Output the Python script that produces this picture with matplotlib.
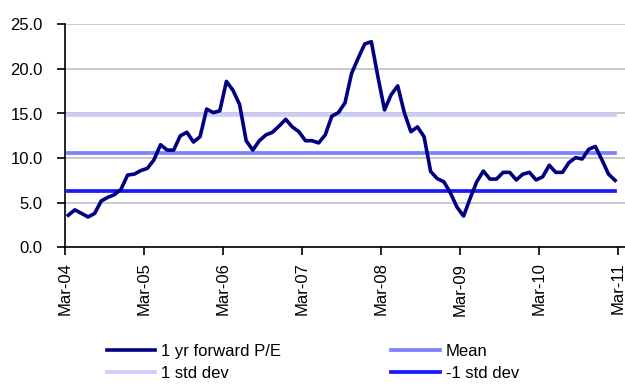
import matplotlib
matplotlib.use("Agg")
import matplotlib.pyplot as plt
import numpy as np

plt.rcParams['font.family'] = ['Liberation Sans Narrow', 'Liberation Sans', 'DejaVu Sans']

tick_labels = ["Mar-04", "Mar-05", "Mar-06", "Mar-07", "Mar-08", "Mar-09", "Mar-10", "Mar-11"]

pe = [3.6, 4.2, 3.8, 3.4, 3.8, 5.2, 5.6, 5.9, 6.5, 8.1,
      8.2, 8.6, 8.85, 9.8, 11.5, 10.9, 10.9, 12.5, 12.9, 11.8,
      12.4, 15.5, 15.1, 15.3, 18.6, 17.6, 16.0, 11.95, 10.9, 11.95,
      12.6, 12.9, 13.6, 14.35, 13.5, 12.96, 11.95, 11.95, 11.7, 12.6,
      14.7, 15.1, 16.2, 19.5, 21.2, 22.8, 23.05, 19.1, 15.4, 17.1,
      18.1, 15.1, 12.96, 13.5, 12.4, 8.5, 7.7, 7.35, 6.1, 4.5,
      3.5, 5.5, 7.35, 8.55, 7.65, 7.65, 8.4, 8.4, 7.55, 8.2,
      8.4, 7.55, 7.9, 9.2, 8.4, 8.4, 9.5, 10.05, 9.9, 11.0,
      11.3, 9.8, 8.2, 7.5]
mean_val = 10.6
plus_sd = 14.8
minus_sd = 6.3

n = len(pe)
x = np.arange(n) + 0.5

fig = plt.figure(figsize=(6.25, 3.85), dpi=100)
ax = fig.add_axes([65/625, 1-247.3/385, 1-65/625, (247.3-24.3)/385])

ax.set_ylim(0, 25)
ax.set_xlim(0, 85)
ax.set_yticks(np.arange(0, 26, 5))
ax.set_yticklabels([f"{v:.1f}" for v in np.arange(0, 26, 5)])
ax.set_xticks(np.arange(0, 85, 12))
ax.set_xticklabels(tick_labels, rotation=90)
ax.grid(axis='y', color='#c0c0c0', linewidth=1.2)
ax.set_axisbelow(True)
for s in ['top', 'right']:
    ax.spines[s].set_visible(False)
ax.spines['left'].set_linewidth(1.2)
ax.spines['bottom'].set_linewidth(1.2)
ax.tick_params(axis='y', direction='out', length=6, width=1.2, pad=10, labelsize=12, colors='black')
ax.tick_params(axis='x', direction='out', length=6, width=1.2, pad=5, labelsize=12, colors='black')

l1, = ax.plot(x, pe, color='#000080', linewidth=2.6, solid_joinstyle='round', zorder=5, label='1 yr forward P/E')
l2, = ax.plot([x[0], x[-1]], [plus_sd, plus_sd], color='#ccccff', linewidth=2.7, zorder=3, label='1 std dev')
l3, = ax.plot([x[0], x[-1]], [mean_val, mean_val], color='#8080ff', linewidth=2.7, zorder=3, label='Mean')
l4, = ax.plot([x[0], x[-1]], [minus_sd, minus_sd], color='#1a1aff', linewidth=2.7, zorder=3, label='-1 std dev')

fig.legend(handles=[l1, l2, l3, l4], ncol=2, loc='upper left', bbox_to_anchor=(107/625, 1-344/385),
           frameon=False, fontsize=12, handlelength=2.9, handletextpad=0.36, labelspacing=0.4,
           columnspacing=6.6, borderpad=0, borderaxespad=0)

fig.savefig("out.png", dpi=100)
